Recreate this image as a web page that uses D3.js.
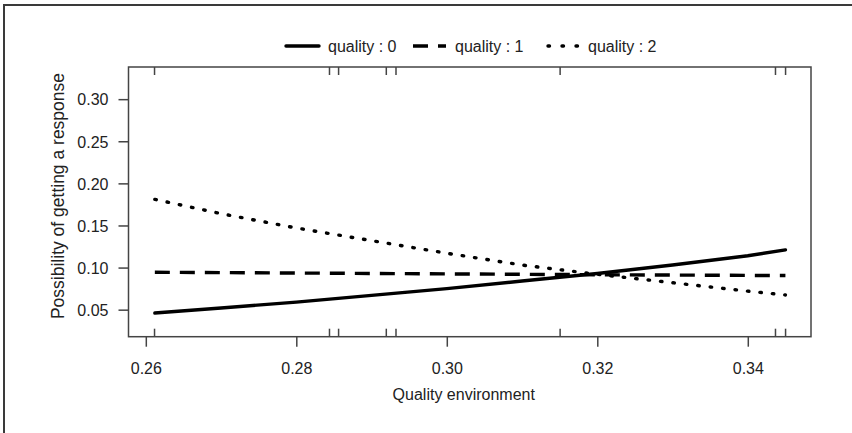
<!DOCTYPE html>
<html>
<head>
<meta charset="utf-8">
<script src="https://cdn.jsdelivr.net/npm/d3@7"></script>
<style>
  body { margin: 0; background: #fff; }
  svg text { font-family: "Liberation Sans", Arial, sans-serif; fill: #222; }
</style>
</head>
<body>
<svg id="chart" width="852" height="433"></svg>
<script>
// data
const xGrid = [0.2612, 0.27, 0.28, 0.29, 0.30, 0.31, 0.32, 0.33, 0.34, 0.3450];
const quality0 = [0.046, 0.052, 0.059, 0.067, 0.075, 0.084, 0.093, 0.103, 0.114, 0.121];
const quality1 = [0.0944, 0.0940, 0.0935, 0.0930, 0.0925, 0.0920, 0.0915, 0.0911, 0.0907, 0.0905];
const quality2 = [0.181, 0.164, 0.147, 0.132, 0.117, 0.103, 0.092, 0.082, 0.072, 0.0675];
const rugValues = [0.26116, 0.28441, 0.28562, 0.29196, 0.29325, 0.31506, 0.34368, 0.34502];
const xTicks = [0.26, 0.28, 0.30, 0.32, 0.34];
const yTicks = [0.05, 0.10, 0.15, 0.20, 0.25, 0.30];
const seriesNames = ["quality : 0", "quality : 1", "quality : 2"];

const box = { left: 128.5, right: 811, top: 67, bottom: 336.7 };
const fontSize = 16;

const svg = d3.select("#chart");

// outer frame (top and left edges only)
svg.append("path")
    .attr("d", "M4,433 V5 H852")
    .attr("fill", "none")
    .attr("stroke", "#3a3a3a")
    .attr("stroke-width", 2);

const x = d3.scaleLinear().domain([0.2577, 0.3484]).range([box.left, box.right]);
const y = d3.scaleLinear().domain([0.0179, 0.3382]).range([box.bottom, box.top]);

const styles = [
    { dash: null, cap: "round" },
    { dash: "15,10", cap: "butt" },
    { dash: "1.5,11", cap: "round" }
];

// plot box
svg.append("rect")
    .attr("x", box.left).attr("y", box.top)
    .attr("width", box.right - box.left).attr("height", box.bottom - box.top)
    .attr("fill", "none").attr("stroke", "#444").attr("stroke-width", 1.5);

// axes
const xAxis = svg.append("g")
    .attr("transform", `translate(0,${box.bottom})`)
    .call(d3.axisBottom(x).tickValues(xTicks).tickFormat(d3.format(".2f")).tickSize(10).tickPadding(16));
const yAxis = svg.append("g")
    .attr("transform", `translate(${box.left},0)`)
    .call(d3.axisLeft(y).tickValues(yTicks).tickFormat(d3.format(".2f")).tickSize(10).tickPadding(10));

[xAxis, yAxis].forEach(a => {
    a.select(".domain").remove();
    a.selectAll(".tick line").attr("stroke", "#444").attr("stroke-width", 1.5);
    a.selectAll(".tick text").attr("font-size", fontSize).attr("fill", "#222")
        .attr("font-family", "Liberation Sans, Arial, sans-serif");
});
yAxis.selectAll(".tick text").attr("dy", "0.36em");

// rug ticks at bottom and top, inside the box
const rug = svg.append("g").attr("stroke", "#444").attr("stroke-width", 1.5);
rug.selectAll(".rb").data(rugValues).enter().append("line")
    .attr("x1", d => x(d)).attr("x2", d => x(d))
    .attr("y1", box.bottom).attr("y2", box.bottom - 8);
rug.selectAll(".rt").data(rugValues).enter().append("line")
    .attr("x1", d => x(d)).attr("x2", d => x(d))
    .attr("y1", box.top).attr("y2", box.top + 8);

// lines
const line = d3.line().x(d => x(d[0])).y(d => y(d[1]));
[quality0, quality1, quality2].forEach((vals, i) => {
    svg.append("path")
        .datum(xGrid.map((g, j) => [g, vals[j]]))
        .attr("d", line)
        .attr("fill", "none")
        .attr("stroke", "#000")
        .attr("stroke-width", 3.4)
        .attr("stroke-linecap", styles[i].cap)
        .attr("stroke-dasharray", styles[i].dash);
});

// axis titles
svg.append("text")
    .attr("x", (box.left + box.right) / 2 - 6).attr("y", 400)
    .attr("text-anchor", "middle").attr("font-size", fontSize)
    .text("Quality environment");
svg.append("text")
    .attr("transform", "translate(64,196) rotate(-90)")
    .attr("text-anchor", "middle").attr("font-size", 17.5)
    .text("Possibility of getting a response");

// legend
const legendX = [286, 413, 546];
const legend = svg.append("g");
seriesNames.forEach((name, i) => {
    legend.append("line")
        .attr("x1", legendX[i] + (i === 2 ? 2 : 0)).attr("x2", legendX[i] + 33)
        .attr("y1", 46).attr("y2", 46)
        .attr("stroke", "#000").attr("stroke-width", 3.4)
        .attr("stroke-linecap", styles[i].cap)
        .attr("stroke-dasharray", i === 2 ? "1.5,12.5" : styles[i].dash);
    legend.append("text")
        .attr("x", legendX[i] + 42).attr("y", 52)
        .attr("font-size", fontSize)
        .text(name);
});
</script>
</body>
</html>
